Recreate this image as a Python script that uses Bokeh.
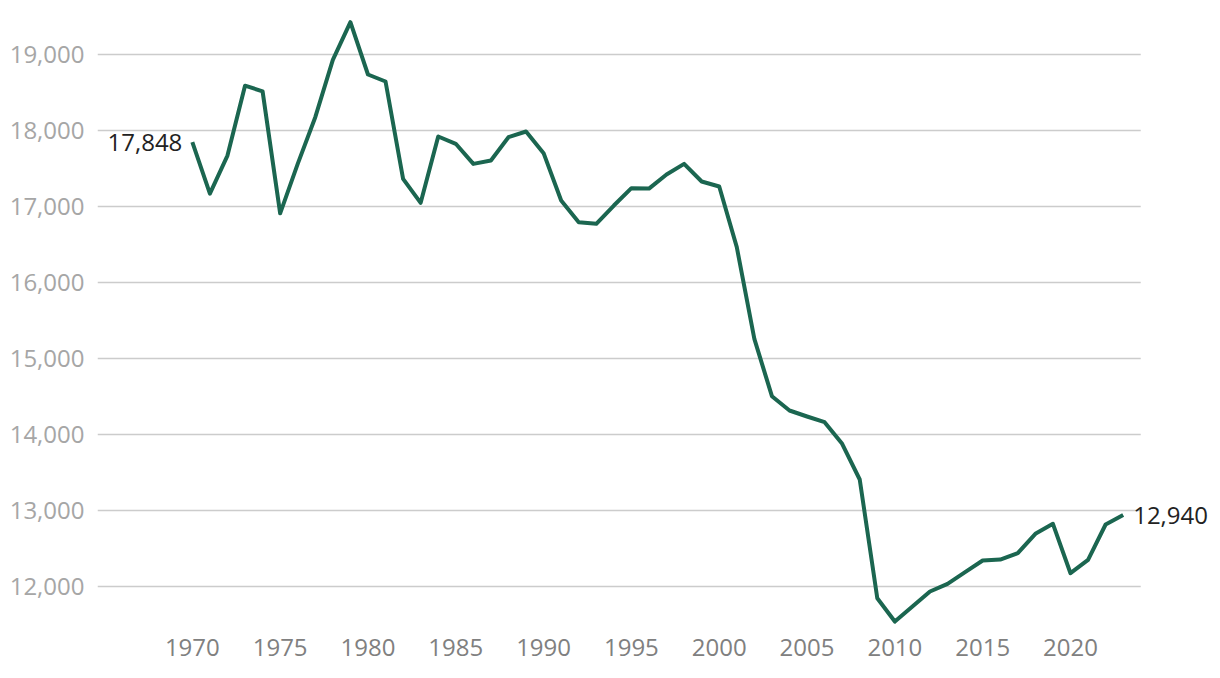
from bokeh.plotting import figure
from bokeh.models import FixedTicker, NumeralTickFormatter, Range1d, ColumnDataSource
from bokeh.core.properties import value
from bokeh.embed import file_html
from bokeh.resources import INLINE

years = list(range(1970, 2024))
values = [17848, 17170, 17670, 18590, 18515, 16910, 17560, 18175, 18930, 19425,
          18737, 18645, 17364, 17048, 17921, 17825, 17561, 17605, 17912, 17987,
          17702, 17079, 16794, 16772, 17013, 17241, 17236, 17421, 17561, 17329,
          17263, 16465, 15259, 14504, 14316, 14237, 14162, 13877, 13408, 11846,
          11539, 11737, 11934, 12035, 12189, 12342, 12355, 12439, 12693, 12825,
          12175, 12351, 12816, 12940]
y_ticks = [12000, 13000, 14000, 15000, 16000, 17000, 18000, 19000]
x_ticks = [1970, 1975, 1980, 1985, 1990, 1995, 2000, 2005, 2010, 2015, 2020]

FONT = "Open Sans"
GREEN = "#1b6650"

x_start = 1964.6
x_end = 2028.2
p = figure(width=1214, height=668, output_backend="svg", toolbar_location=None,
           x_range=Range1d(x_start, x_end), y_range=Range1d(11487, 19579),
           min_border_left=97, min_border_right=0, min_border_top=10, min_border_bottom=43)
p.outline_line_color = None
p.xgrid.grid_line_color = None
p.ygrid.grid_line_color = None

# custom horizontal gridlines spanning the data period only
grid_src = ColumnDataSource(dict(x0=[x_start] * len(y_ticks), x1=[years[-1] + 1] * len(y_ticks), y=y_ticks))
p.segment(x0="x0", x1="x1", y0="y", y1="y", source=grid_src, line_color="#cccccc", line_width=1.5)

p.line(years, values, line_color=GREEN, line_width=4, line_join="round")

# end labels
p.text(x=[years[0]], y=[values[0]], text=[f"{values[0]:,}"], text_align="right", text_baseline="middle",
       x_offset=-10, text_font=value(FONT), text_font_size="24px", text_color="#222222")
p.text(x=[years[-1]], y=[values[-1]], text=[f"{values[-1]:,}"], text_align="left", text_baseline="middle",
       x_offset=10, text_font=value(FONT), text_font_size="24px", text_color="#222222")

for ax in (p.xaxis[0], p.yaxis[0]):
    ax.axis_line_color = None
    ax.major_tick_line_color = None
    ax.minor_tick_line_color = None
    ax.major_tick_out = 0
    ax.major_tick_in = 0
    ax.minor_tick_out = 0
    ax.major_label_text_font = FONT
    ax.major_label_text_font_size = "24px"

p.yaxis.ticker = FixedTicker(ticks=y_ticks)
p.yaxis.formatter = NumeralTickFormatter(format="0,0")
p.yaxis.major_label_text_color = "#a6a6a6"
p.yaxis.major_label_standoff = 13
p.xaxis.ticker = FixedTicker(ticks=x_ticks)
p.xaxis.major_label_text_color = "#808080"
p.xaxis.major_label_standoff = 13

open("out.html", "w").write(file_html(p, INLINE))
